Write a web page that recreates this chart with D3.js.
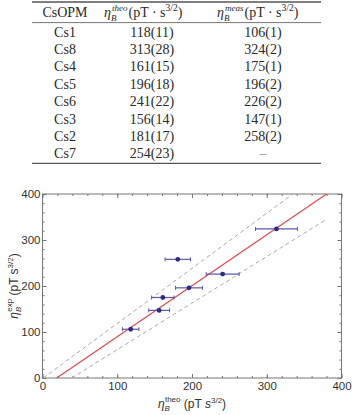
<!DOCTYPE html>
<html>
<head>
<meta charset="utf-8">
<script src="https://cdn.jsdelivr.net/npm/d3@7"></script>
<style>
  body { margin: 0; background: #fff; }
  svg { display: block; }
  .tbl text { font-family: "Liberation Serif", "Times New Roman", serif; fill: #2a2a2a; }
  .plot text { font-family: "Liberation Sans", Arial, sans-serif; fill: #333; }
</style>
</head>
<body>
<div id="chart"></div>
<script>
// table + scatter data
var sensors = ["Cs1", "Cs8", "Cs4", "Cs5", "Cs6", "Cs3", "Cs2", "Cs7"],
	theo = [118, 313, 161, 196, 241, 156, 181, 254],
	theoErr = [11, 28, 15, 18, 22, 14, 17, 23],
	meas = [106, 324, 175, 196, 226, 147, 258, null],
	measErr = [1, 2, 1, 2, 2, 1, 2, null];

// axis ticks
var xTicks = [0, 100, 200, 300, 400],
	yTicks = [0, 100, 200, 300, 400],
	minorTicks = d3.range(0, 401, 20);

// fit line and the two dashed bounds, [theo, exp] pairs
var fitLine = [[19, 0], [380, 400]],
	upperBound = [[1, 0], [335, 400]],
	lowerBound = [[39, 0], [380, 345]];

var W = 355, H = 415;
var svg = d3.select("#chart").append("svg")
	.attr("width", W)
	.attr("height", H);

/* ---------- table ---------- */
var tbl = svg.append("g").attr("class", "tbl");
var colX = [65, 152, 263],
	ruleL = 32, ruleR = 321,
	headY = 17.3,
	row0 = 36.6,
	rowH = 17.38;

tbl.append("line").attr("x1", ruleL).attr("x2", ruleR).attr("y1", 2).attr("y2", 2)
	.attr("stroke", "#555").attr("stroke-width", 1.3);
tbl.append("line").attr("x1", ruleL).attr("x2", ruleR).attr("y1", 22.6).attr("y2", 22.6)
	.attr("stroke", "#666").attr("stroke-width", 0.9);
tbl.append("line").attr("x1", ruleL).attr("x2", ruleR).attr("y1", 163.4).attr("y2", 163.4)
	.attr("stroke", "#555").attr("stroke-width", 1.3);

tbl.append("text").attr("x", colX[0]).attr("y", headY)
	.attr("text-anchor", "middle").attr("font-size", 14).text("CsOPM");

// header: eta with stacked sub/superscript, as separate texts
var addHeader = function(x0, tag) {
	tbl.append("text").attr("x", x0).attr("y", headY)
		.attr("font-size", 14).attr("font-style", "italic").text("η");
	tbl.append("text").attr("x", x0 + 7).attr("y", headY + 3.5)
		.attr("font-size", 9).attr("font-style", "italic").text("B");
	var sup = tbl.append("text").attr("x", x0 + 8).attr("y", headY - 6.5)
		.attr("font-size", 9).attr("font-style", "italic").text(tag);
	var supW = sup.node().getComputedTextLength();
	var t = tbl.append("text").attr("x", x0 + 9 + supW).attr("y", headY)
		.attr("font-size", 14);
	t.append("tspan").text("(pT · s");
	t.append("tspan").attr("font-size", 9.5).attr("dy", -6).text("3/2");
	t.append("tspan").attr("dy", 6).text(")");
};
addHeader(104, "theo");
addHeader(217, "meas");

sensors.forEach(function(name, i) {
	var y = row0 + i * rowH;
	tbl.append("text").attr("x", colX[0]).attr("y", y)
		.attr("text-anchor", "middle").attr("font-size", 14).text(name);
	tbl.append("text").attr("x", colX[1]).attr("y", y)
		.attr("text-anchor", "middle").attr("font-size", 14)
		.text(theo[i] + "(" + theoErr[i] + ")");
	if (meas[i] != null) {
		tbl.append("text").attr("x", colX[2]).attr("y", y)
			.attr("text-anchor", "middle").attr("font-size", 14)
			.text(meas[i] + "(" + measErr[i] + ")");
	} else {
		tbl.append("text").attr("x", colX[2]).attr("y", y)
			.attr("text-anchor", "middle").attr("font-size", 14)
			.style("fill", "#999").text("–");
	}
});

/* ---------- scatter plot ---------- */
var plot = svg.append("g").attr("class", "plot");
var x = d3.scaleLinear().domain([0, 400]).range([42.5, 341.5]),
	y = d3.scaleLinear().domain([0, 400]).range([378, 194]);

var frame = "#777";

var drawAxis = function(axis, tx, ty) {
	var g = plot.append("g").attr("transform", "translate(" + tx + "," + ty + ")").call(axis);
	g.select(".domain").remove();
	g.selectAll(".tick line").attr("stroke", frame);
	g.selectAll(".tick text").attr("font-size", 11.5).style("fill", "#333");
	return g;
};

// minor ticks (no labels), every side
drawAxis(d3.axisBottom(x).tickValues(minorTicks).tickSize(-2).tickFormat(""), 0, y(0));
drawAxis(d3.axisTop(x).tickValues(minorTicks).tickSize(-2).tickFormat(""), 0, y(400));
drawAxis(d3.axisLeft(y).tickValues(minorTicks).tickSize(-2).tickFormat(""), x(0), 0);
drawAxis(d3.axisRight(y).tickValues(minorTicks).tickSize(-2).tickFormat(""), x(400), 0);

// major ticks
drawAxis(d3.axisBottom(x).tickValues(xTicks).tickSize(-4).tickPadding(4), 0, y(0));
drawAxis(d3.axisTop(x).tickValues(xTicks).tickSize(-4).tickFormat(""), 0, y(400));
drawAxis(d3.axisLeft(y).tickValues(yTicks).tickSize(-4).tickPadding(2), x(0), 0);
drawAxis(d3.axisRight(y).tickValues(yTicks).tickSize(-4).tickFormat(""), x(400), 0);

plot.append("rect")
	.attr("x", x(0)).attr("y", y(400))
	.attr("width", x(400) - x(0)).attr("height", y(0) - y(400))
	.attr("fill", "none").attr("stroke", frame).attr("stroke-width", 1);

var line = d3.line()
	.x(function(d) { return x(d[0]); })
	.y(function(d) { return y(d[1]); });

plot.append("path").datum(upperBound).attr("d", line)
	.attr("fill", "none").attr("stroke", "#aaa").attr("stroke-width", 1).attr("stroke-dasharray", "4,3");
plot.append("path").datum(lowerBound).attr("d", line)
	.attr("fill", "none").attr("stroke", "#aaa").attr("stroke-width", 1).attr("stroke-dasharray", "4,3");
plot.append("path").datum(fitLine).attr("d", line)
	.attr("fill", "none").attr("stroke", "#e2494f").attr("stroke-width", 1.2);

// points with horizontal error bars
var pts = sensors.map(function(s, i) {
	return { name: s, x: theo[i], xe: theoErr[i], y: meas[i] };
}).filter(function(d) { return d.y != null; });

var errColor = "#5a5aa8";
var groups = plot.selectAll("g.pt").data(pts).enter()
	.append("g").attr("class", "pt");

groups.append("line")
	.attr("x1", function(d) { return x(d.x - d.xe); })
	.attr("x2", function(d) { return x(d.x + d.xe); })
	.attr("y1", function(d) { return y(d.y); })
	.attr("y2", function(d) { return y(d.y); })
	.attr("stroke", errColor).attr("stroke-width", 1.2);
groups.append("line")
	.attr("x1", function(d) { return x(d.x - d.xe); })
	.attr("x2", function(d) { return x(d.x - d.xe); })
	.attr("y1", function(d) { return y(d.y) - 2; })
	.attr("y2", function(d) { return y(d.y) + 2; })
	.attr("stroke", errColor).attr("stroke-width", 1);
groups.append("line")
	.attr("x1", function(d) { return x(d.x + d.xe); })
	.attr("x2", function(d) { return x(d.x + d.xe); })
	.attr("y1", function(d) { return y(d.y) - 2; })
	.attr("y2", function(d) { return y(d.y) + 2; })
	.attr("stroke", errColor).attr("stroke-width", 1);
groups.append("circle")
	.attr("cx", function(d) { return x(d.x); })
	.attr("cy", function(d) { return y(d.y); })
	.attr("r", 2.4)
	.attr("fill", "#2b2b85");

// axis titles
var xl = plot.append("text").attr("x", 192).attr("y", 408)
	.attr("text-anchor", "middle").attr("font-size", 12);
xl.append("tspan").attr("font-style", "italic").text("η");
xl.append("tspan").attr("font-style", "italic").attr("font-size", 8).attr("dy", 3).text("B");
xl.append("tspan").attr("font-size", 8).attr("dx", -5).attr("dy", -9).text("theo");
xl.append("tspan").attr("dy", 6).text(" (pT ");
xl.append("tspan").attr("font-style", "italic").text("s");
xl.append("tspan").attr("font-size", 8).attr("dy", -5).text("3/2");
xl.append("tspan").attr("dy", 5).text(")");

var yl = plot.append("text")
	.attr("transform", "translate(18," + y(200) + ") rotate(-90)")
	.attr("text-anchor", "middle").attr("font-size", 12);
yl.append("tspan").attr("font-style", "italic").text("η");
yl.append("tspan").attr("font-style", "italic").attr("font-size", 8).attr("dy", 3).text("B");
yl.append("tspan").attr("font-size", 8).attr("dx", -5).attr("dy", -9).text("exp");
yl.append("tspan").attr("dy", 6).text(" (pT s");
yl.append("tspan").attr("font-size", 8).attr("dy", -5).text("3/2");
yl.append("tspan").attr("dy", 5).text(")");
</script>
</body>
</html>
